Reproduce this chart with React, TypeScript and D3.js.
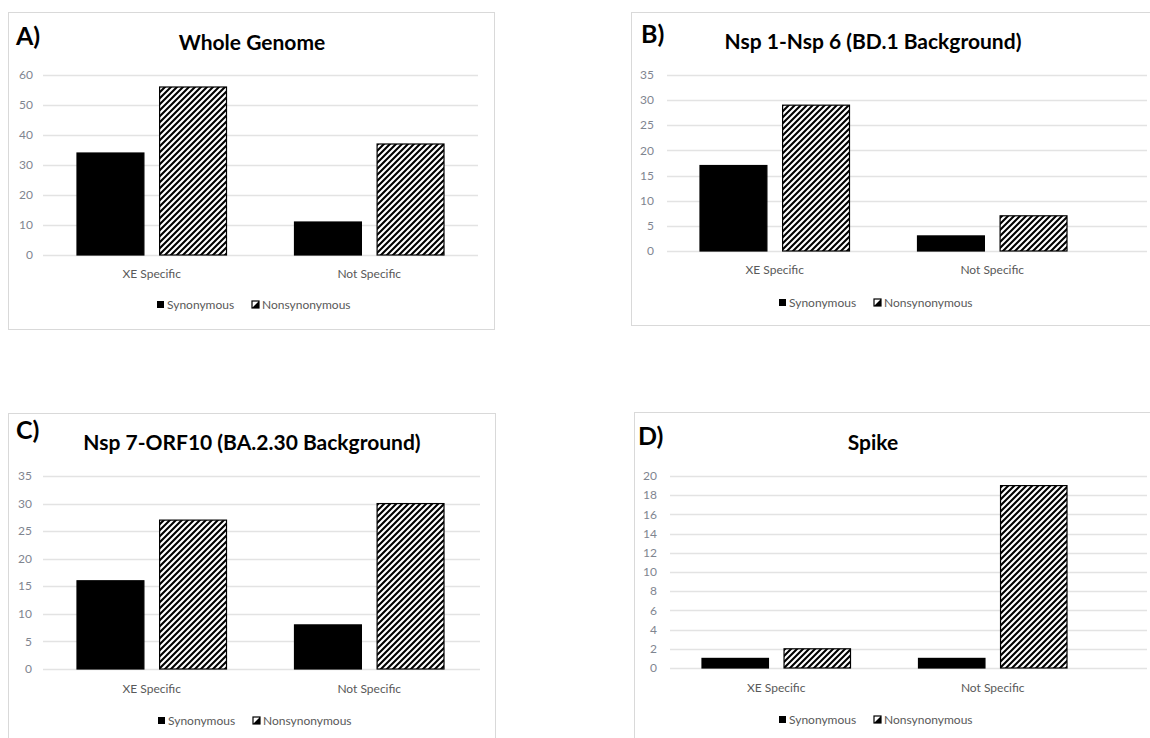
import React from "react";
import * as d3 from "d3";

// chart values
const categories = ["XE Specific", "Not Specific"];
const seriesNames = ["Synonymous", "Nonsynonymous"];

const wholeGenomeSyn = [34, 11];
const wholeGenomeNonsyn = [56, 37];
const nsp1to6Syn = [17, 3];
const nsp1to6Nonsyn = [29, 7];
const nsp7toOrf10Syn = [16, 8];
const nsp7toOrf10Nonsyn = [27, 30];
const spikeSyn = [1, 1];
const spikeNonsyn = [2, 19];

const ticks60 = [0, 10, 20, 30, 40, 50, 60];
const ticks35 = [0, 5, 10, 15, 20, 25, 30, 35];
const ticks20 = [0, 2, 4, 6, 8, 10, 12, 14, 16, 18, 20];

const FONT = "Lato, 'Open Sans', sans-serif";

// layout of each panel (pixels), kept apart from the data
const panels = [
  {
    letter: "A)", title: "Whole Genome", syn: wholeGenomeSyn, nonsyn: wholeGenomeNonsyn, ticks: ticks60,
    frame: [8, 12, 486, 317], letterPos: [16, 45], titlePos: [252, 50],
    y: [255, 75], band: [43, 478], grid: [43, 478], tickX: 33, catY: 278, legend: [157, 309],
  },
  {
    letter: "B)", title: "Nsp 1-Nsp 6 (BD.1 Background)", syn: nsp1to6Syn, nonsyn: nsp1to6Nonsyn, ticks: ticks35,
    frame: [631, 12, 540, 313], letterPos: [641, 43], titlePos: [873, 49],
    y: [251, 75], band: [666, 1101], grid: [667, 1147], tickX: 654, catY: 274, legend: [779, 307],
  },
  {
    letter: "C)", title: "Nsp 7-ORF10 (BA.2.30 Background)", syn: nsp7toOrf10Syn, nonsyn: nsp7toOrf10Nonsyn, ticks: ticks35,
    frame: [8, 413, 487, 340], letterPos: [16, 439], titlePos: [252, 450],
    y: [669, 476], band: [43, 478], grid: [43, 480], tickX: 32, catY: 693, legend: [158, 725],
  },
  {
    letter: "D)", title: "Spike", syn: spikeSyn, nonsyn: spikeNonsyn, ticks: ticks20,
    frame: [634, 412, 540, 340], letterPos: [638, 445], titlePos: [873, 450],
    y: [668, 476], band: [668, 1101], grid: [670, 1147], tickX: 657, catY: 692, legend: [779, 724],
  },
];

const Panel = ({ p, idx }) => {
  const yMax = p.ticks[p.ticks.length - 1];
  const y = d3.scaleLinear().domain([0, yMax]).range(p.y);
  const x0 = d3.scaleBand().domain(categories).range(p.band);
  const bw = x0.bandwidth();
  const x1 = d3.scaleBand().domain(seriesNames).range([34, bw - 34]).paddingInner(0.19);
  const values = [p.syn, p.nonsyn];
  const [fx, fy, fw, fh] = p.frame;
  const [lx, ly] = p.legend;

  return (
    <g>
      <rect x={fx + 0.5} y={fy + 0.5} width={fw} height={fh} fill="#fff" stroke="#d9d9d9" />
      {p.ticks.map((t) => (
        <g key={t}>
          <line x1={p.grid[0]} x2={p.grid[1]} y1={Math.round(y(t)) + 0.5} y2={Math.round(y(t)) + 0.5}
            stroke="#e3e3e3" strokeWidth={1.3} />
          <text x={p.tickX} y={y(t)} dy="0.35em" textAnchor="end" fontSize={12} fill="#7f8590"
            fontFamily={FONT}>{t}</text>
        </g>
      ))}
      {categories.map((c, ci) =>
        seriesNames.map((s, si) => {
          const v = values[si][ci];
          const bx = x0(c) + x1(s);
          return (
            <rect key={c + s} x={bx} y={y(v)} width={x1.bandwidth()} height={y(0) - y(v)}
              fill={si === 0 ? "#000" : `url(#hatch${idx})`} stroke="#000" strokeWidth={1.2} />
          );
        })
      )}
      {categories.map((c) => (
        <text key={c} x={x0(c) + bw / 2} y={p.catY} textAnchor="middle" fontSize={12} fill="#595959"
          fontFamily={FONT}>{c}</text>
      ))}
      <rect x={lx} y={ly - 8} width={7} height={7} fill="#000" />
      <text x={lx + 10} y={ly} fontSize={12} fill="#595959" fontFamily={FONT}>{seriesNames[0]}</text>
      <rect x={lx + 95} y={ly - 8} width={7} height={7} fill="#fff" stroke="#000" strokeWidth={1.2} />
      <path d={`M${lx + 95},${ly - 1} L${lx + 102},${ly - 8} L${lx + 102},${ly - 1} Z`} fill="#000" />
      <text x={lx + 105} y={ly} fontSize={12} fill="#595959" fontFamily={FONT}>{seriesNames[1]}</text>
      <text x={p.titlePos[0]} y={p.titlePos[1]} textAnchor="middle" fontSize={21} fontWeight="bold"
        fill="#000" fontFamily={FONT}>{p.title}</text>
      <text x={p.letterPos[0]} y={p.letterPos[1]} fontSize={25} fontWeight="bold" fill="#000"
        fontFamily={FONT}>{p.letter}</text>
    </g>
  );
};

export default function App() {
  return (
    <svg width={1150} height={738} style={{ position: "absolute", left: 0, top: 0 }}>
      <defs>
        {panels.map((p, i) => (
          <pattern key={i} id={`hatch${i}`} patternUnits="userSpaceOnUse" width={6} height={6}>
            <rect width={6} height={6} fill="#fff" />
            <path d="M0,6 L6,0 M-1.5,1.5 L1.5,-1.5 M4.5,7.5 L7.5,4.5" stroke="#000" strokeWidth={2.1} />
          </pattern>
        ))}
      </defs>
      <rect width={1150} height={738} fill="#fff" />
      {panels.map((p, i) => (
        <Panel key={i} p={p} idx={i} />
      ))}
    </svg>
  );
}
